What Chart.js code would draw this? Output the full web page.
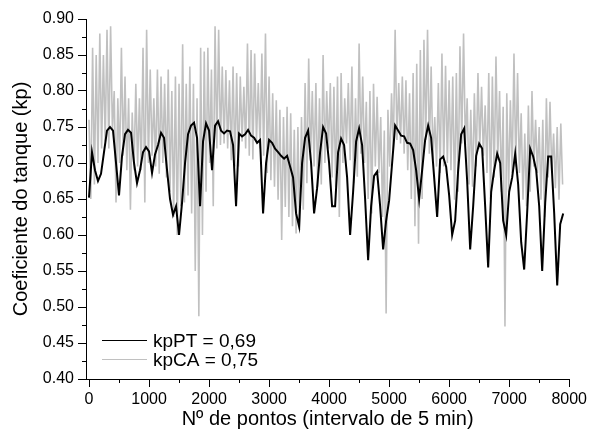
<!DOCTYPE html>
<html>
<head>
<meta charset="utf-8">
<script src="https://cdn.jsdelivr.net/npm/chart.js@4.4.1/dist/chart.umd.min.js"></script>
<style>
  html, body { margin: 0; padding: 0; background: #fff; }
</style>
</head>
<body>
<canvas id="myChart" width="590" height="432"></canvas>
<script>
// sample spacing (points) for each series
const stepPT = 50;
const stepCA = 30;

// kpPT (black) - one value every 50 points
const kpPT = [
  0.652, 0.715, 0.690, 0.675, 0.685, 0.715, 0.745, 0.750, 0.745, 0.700,
  0.655, 0.710, 0.740, 0.746, 0.742, 0.700, 0.672, 0.690, 0.715, 0.722,
  0.716, 0.686, 0.712, 0.725, 0.742, 0.735, 0.690, 0.650, 0.628, 0.640,
  0.600, 0.645, 0.700, 0.740, 0.752, 0.756, 0.735, 0.640, 0.730, 0.755,
  0.745, 0.690, 0.752, 0.758, 0.745, 0.741, 0.745, 0.744, 0.725, 0.640,
  0.741, 0.737, 0.740, 0.746, 0.738, 0.735, 0.728, 0.732, 0.630, 0.700,
  0.732, 0.728, 0.720, 0.715, 0.710, 0.706, 0.710, 0.695, 0.680, 0.630,
  0.612, 0.700, 0.735, 0.745, 0.700, 0.630, 0.665, 0.715, 0.750, 0.741,
  0.700, 0.640, 0.640, 0.715, 0.734, 0.725, 0.680, 0.600, 0.660, 0.730,
  0.748, 0.725, 0.650, 0.565, 0.640, 0.682, 0.688, 0.640, 0.580, 0.620,
  0.648, 0.700, 0.752, 0.745, 0.738, 0.737, 0.728, 0.727, 0.718, 0.690,
  0.650, 0.690, 0.732, 0.752, 0.735, 0.680, 0.625, 0.705, 0.709, 0.695,
  0.655, 0.600, 0.620, 0.690, 0.740, 0.748, 0.675, 0.580, 0.640, 0.710,
  0.727, 0.720, 0.640, 0.555, 0.660, 0.690, 0.713, 0.700, 0.620, 0.600,
  0.660, 0.680, 0.713, 0.670, 0.590, 0.552, 0.632, 0.720, 0.709, 0.690,
  0.640, 0.550, 0.645, 0.709, 0.709, 0.630, 0.530, 0.615, 0.630
];

// kpCA (grey) - one value every 30 points
const kpCA = [
  0.760, 0.650, 0.860, 0.670, 0.850, 0.700, 0.880, 0.720, 0.850, 0.730,
  0.885, 0.720, 0.890, 0.745, 0.800, 0.645, 0.790, 0.700, 0.860, 0.710,
  0.820, 0.690, 0.790, 0.635, 0.770, 0.690, 0.810, 0.695, 0.790, 0.690,
  0.860, 0.645, 0.885, 0.700, 0.830, 0.710, 0.790, 0.695, 0.830, 0.685,
  0.820, 0.700, 0.810, 0.680, 0.830, 0.660, 0.800, 0.625, 0.820, 0.600,
  0.810, 0.640, 0.865, 0.645, 0.810, 0.655, 0.834, 0.630, 0.810, 0.550,
  0.790, 0.487, 0.860, 0.600, 0.855, 0.660, 0.860, 0.700, 0.830, 0.640,
  0.890, 0.720, 0.885, 0.725, 0.834, 0.727, 0.829, 0.720, 0.815, 0.704,
  0.834, 0.695, 0.825, 0.695, 0.820, 0.730, 0.806, 0.720, 0.866, 0.710,
  0.857, 0.705, 0.852, 0.730, 0.811, 0.720, 0.852, 0.710, 0.880, 0.686,
  0.820, 0.676, 0.797, 0.667, 0.787, 0.649, 0.774, 0.593, 0.764, 0.639,
  0.778, 0.625, 0.769, 0.612, 0.746, 0.602, 0.750, 0.607, 0.764, 0.635,
  0.811, 0.672, 0.845, 0.704, 0.800, 0.695, 0.811, 0.667, 0.790, 0.670,
  0.850, 0.700, 0.800, 0.720, 0.811, 0.680, 0.806, 0.667, 0.820, 0.625,
  0.825, 0.700, 0.790, 0.727, 0.811, 0.704, 0.834, 0.672, 0.790, 0.681,
  0.866, 0.713, 0.820, 0.700, 0.785, 0.650, 0.800, 0.630, 0.810, 0.695,
  0.792, 0.686, 0.764, 0.625, 0.745, 0.491, 0.774, 0.695, 0.797, 0.718,
  0.885, 0.732, 0.811, 0.727, 0.820, 0.713, 0.815, 0.690, 0.797, 0.650,
  0.825, 0.612, 0.838, 0.588, 0.857, 0.650, 0.871, 0.732, 0.885, 0.713,
  0.834, 0.704, 0.764, 0.695, 0.811, 0.686, 0.852, 0.695, 0.835, 0.700,
  0.815, 0.690, 0.820, 0.649, 0.825, 0.660, 0.862, 0.727, 0.880, 0.725,
  0.790, 0.670, 0.774, 0.667, 0.797, 0.695, 0.825, 0.720, 0.806, 0.710,
  0.780, 0.686, 0.825, 0.650, 0.820, 0.680, 0.848, 0.704, 0.800, 0.660,
  0.778, 0.473, 0.797, 0.660, 0.787, 0.686, 0.852, 0.695, 0.825, 0.686,
  0.769, 0.649, 0.741, 0.640, 0.780, 0.660, 0.800, 0.695, 0.760, 0.686,
  0.750, 0.649, 0.760, 0.625, 0.790, 0.680, 0.785, 0.686, 0.741, 0.665,
  0.750, 0.649, 0.755, 0.670
];

const xTicks = [0, 1000, 2000, 3000, 4000, 5000, 6000, 7000, 8000];
const xMinor = [500, 1500, 2500, 3500, 4500, 5500, 6500, 7500];
const yTicks = [0.40, 0.45, 0.50, 0.55, 0.60, 0.65, 0.70, 0.75, 0.80, 0.85, 0.90];
const yMinor = [0.425, 0.475, 0.525, 0.575, 0.625, 0.675, 0.725, 0.775, 0.825, 0.875];
const seriesLabels = ["kpPT = 0,69", "kpCA = 0,75"];

const FONT = "'Liberation Sans', Arial, sans-serif";

// short minor ticks + legend inside the plot
const extras = {
  id: "extras",
  afterDraw(chart) {
    const ctx = chart.ctx;
    const xs = chart.scales.x, ys = chart.scales.y;
    ctx.save();
    ctx.strokeStyle = "#000";
    ctx.lineWidth = 1;
    ctx.beginPath();
    xMinor.forEach((v) => {
      const px = Math.round(xs.getPixelForValue(v)) + 0.5;
      ctx.moveTo(px, ys.bottom);
      ctx.lineTo(px, ys.bottom + 4);
    });
    yMinor.forEach((v) => {
      const py = Math.round(ys.getPixelForValue(v)) + 0.5;
      ctx.moveTo(xs.left, py);
      ctx.lineTo(xs.left - 4, py);
    });
    ctx.stroke();

    // legend
    ctx.font = "19px " + FONT;
    ctx.textBaseline = "middle";
    ctx.fillStyle = "#000";
    chart.data.datasets.forEach((ds, i) => {
      const ly = 340.5 + i * 19;
      ctx.strokeStyle = ds.borderColor;
      ctx.lineWidth = 1.2;
      ctx.beginPath();
      ctx.moveTo(102, ly);
      ctx.lineTo(147, ly);
      ctx.stroke();
      ctx.fillText(ds.label, 153, ly + 1);
    });
    ctx.restore();
  },
};

const ctx = document.getElementById("myChart").getContext("2d");
new Chart(ctx, {
  type: "line",
  data: {
    datasets: [
      {
        label: seriesLabels[0],
        data: kpPT.map((v, i) => ({ x: i * stepPT, y: v })),
        borderColor: "#000000",
        borderWidth: 2,
        pointRadius: 0,
        tension: 0,
      },
      {
        label: seriesLabels[1],
        data: kpCA.map((v, i) => ({ x: i * stepCA, y: v })),
        borderColor: "#c0c0c0",
        borderWidth: 1.6,
        pointRadius: 0,
        tension: 0,
      },
    ],
  },
  options: {
    responsive: false,
    animation: false,
    layout: { padding: { left: 0, right: 18, top: 19, bottom: 0 } },
    plugins: { legend: { display: false }, tooltip: { enabled: false } },
    scales: {
      x: {
        type: "linear",
        min: -50,
        max: 8000,
        afterFit: (s) => { s.height = 53; },
        afterBuildTicks: (s) => { s.ticks = xTicks.map((v) => ({ value: v })); },
        grid: { drawOnChartArea: false, drawTicks: true, tickLength: 8, color: "#000" },
        border: { display: true, color: "#000", width: 1 },
        ticks: {
          color: "#000",
          font: { family: FONT, size: 16 },
          padding: 3,
          maxRotation: 0,
          callback: (v) => String(v),
        },
        title: {
          display: true,
          text: "Nº de pontos (intervalo de 5 min)",
          color: "#000",
          font: { family: FONT, size: 20 },
          padding: { top: 0, bottom: 1 },
        },
      },
      y: {
        min: 0.4,
        max: 0.9,
        afterFit: (s) => { s.width = 86; },
        afterBuildTicks: (s) => { s.ticks = yTicks.map((v) => ({ value: v })); },
        grid: { drawOnChartArea: false, drawTicks: true, tickLength: 8, color: "#000" },
        border: { display: true, color: "#000", width: 1 },
        ticks: {
          color: "#000",
          font: { family: FONT, size: 16 },
          padding: 4,
          callback: (v) => Number(v).toFixed(2),
        },
        title: {
          display: true,
          text: "Coeficiente do tanque (kp)",
          color: "#000",
          font: { family: FONT, size: 20 },
          padding: { top: 9, bottom: 0 },
        },
      },
    },
  },
  plugins: [extras],
});
</script>
</body>
</html>
